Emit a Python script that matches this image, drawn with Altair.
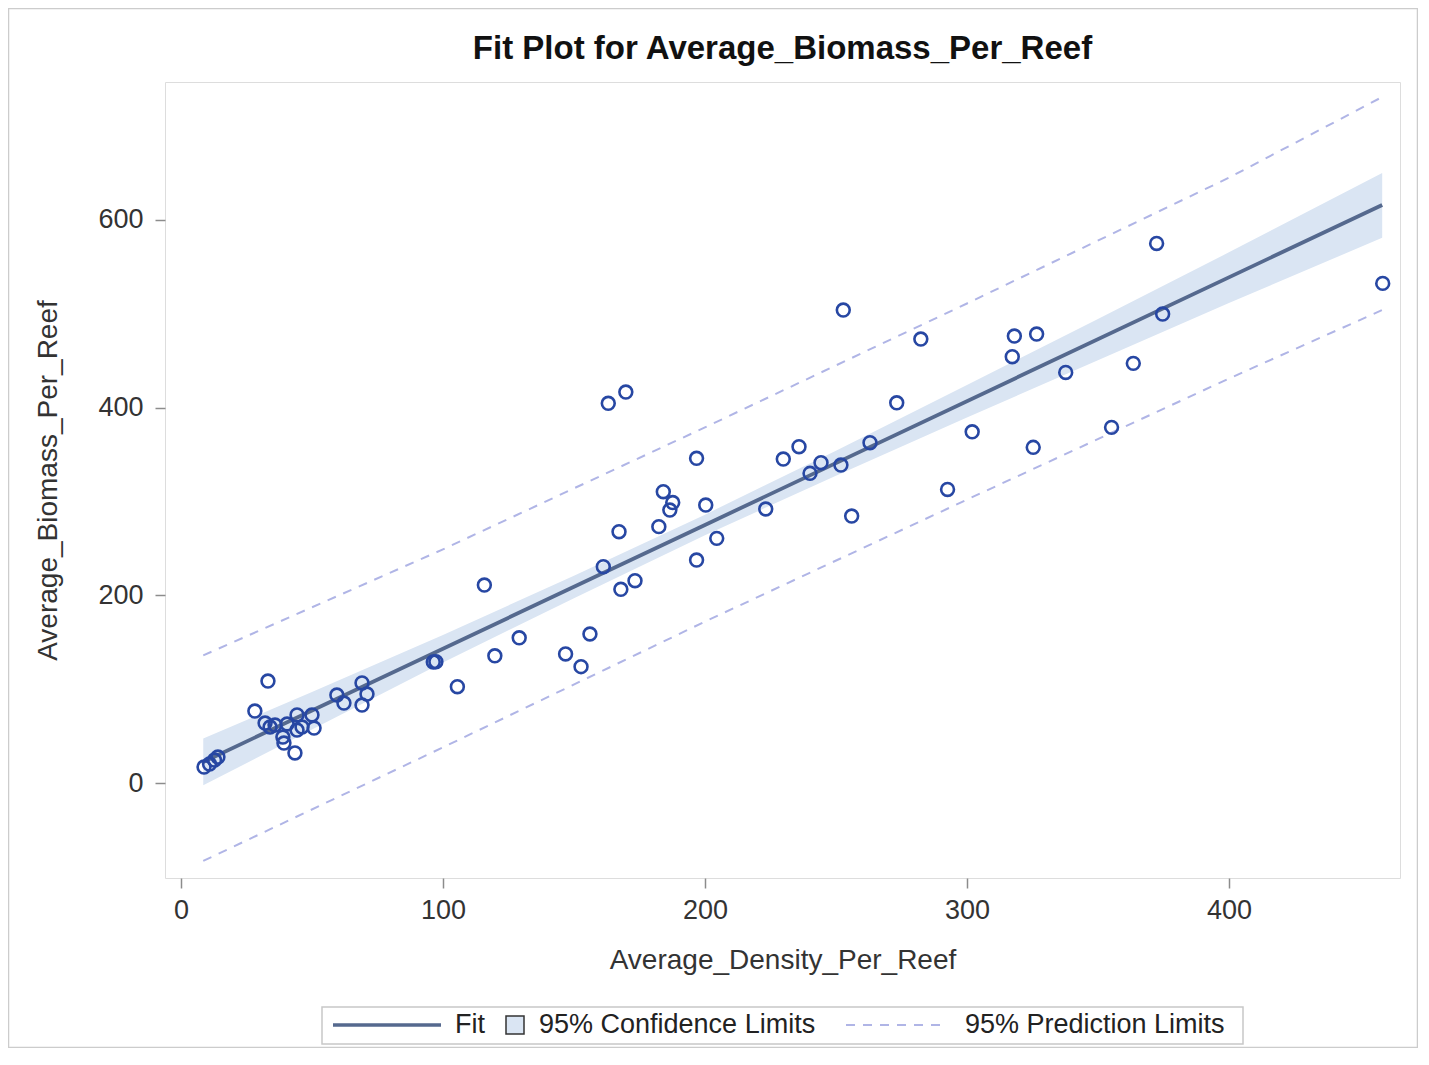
import altair as alt
import pandas as pd

# ---------------- data ----------------
density = [8.8, 10.9, 12.8, 14.1,
           28.2, 32.1, 34.0, 35.9, 38.9, 39.3, 40.5, 43.5, 44.3, 44.3, 46.2, 50.0, 50.8, 33.2,
           59.5, 62.2, 69.1, 71.0, 69.1,
           96.3, 97.3,
           105.5, 115.8, 119.8, 129.1, 146.8, 152.7, 156.1, 161.2, 167.9, 173.3,
           163.1, 169.8, 196.8, 184.1, 187.7, 186.6, 200.3, 167.2, 182.4, 204.5, 196.8, 223.2,
           229.9, 235.9, 240.1, 244.3, 251.9, 263.0, 273.2, 256.0, 252.8,
           282.4, 318.1, 326.6, 317.3, 337.7, 302.0, 325.3, 292.6, 355.2, 363.5,
           372.4, 374.7, 458.7]
biomass = [17.0, 20.2, 24.5, 27.7,
           76.7, 63.9, 59.7, 61.8, 49.0, 42.6, 62.9, 32.0, 72.5, 56.5, 59.7, 72.5, 58.6, 108.7,
           93.8, 85.2, 106.6, 94.8, 83.1,
           129.0, 129.3,
           102.6, 211.0, 135.6, 154.8, 137.5, 124.0, 158.8, 230.5, 206.4, 215.6,
           404.6, 416.6, 346.0, 310.4, 298.9, 290.9, 296.2, 267.8, 273.2, 260.7, 237.6, 292.0,
           345.2, 358.4, 330.0, 341.3, 338.8, 362.6, 405.2, 284.5, 504.0,
           473.1, 476.3, 478.4, 454.3, 437.5, 374.3, 357.7, 312.8, 379.0, 447.2,
           575.0, 499.7, 532.4]

fit_x = [8.5, 200.0, 458.5]
fit_y = [22.5, 275.0, 616.0]

band_x = [8.5, 50, 100, 150, 200, 250, 300, 350, 400, 458.5]
ci_lower = [-2.5, 57.0, 128.5, 197.0, 264.0, 327.5, 389.5, 450.5, 511.5, 581.0]
ci_upper = [47.5, 97.0, 157.7, 221.0, 286.0, 354.0, 424.0, 494.5, 565.5, 650.0]

pi_x = [8.5, 100, 200, 300, 400, 458.5]
pi_upper = [136.0, 249.0, 379.0, 511.0, 645.0, 731.0]
pi_lower = [-83.0, 38.0, 172.0, 302.0, 431.0, 504.0]

series = ["Fit", "95% Confidence Limits", "95% Prediction Limits"]
x_ticks = [0, 100, 200, 300, 400]
y_ticks = [0, 200, 400, 600]

# ---------------- styling ----------------
FONT = "Liberation Sans"
C_FIT = "#55698e"
C_CI = "#dae5f3"
C_PI = "#b0b5e6"
C_PT = "#2747a3"

df_pts = pd.DataFrame({"x": density, "y": biomass})
df_band = pd.DataFrame({"x": band_x, "lo": ci_lower, "hi": ci_upper, "s_ci": series[1]})
df_fit = pd.DataFrame({"x": fit_x, "y": fit_y, "s_fit": series[0]})
df_pi = pd.DataFrame({
    "x": pi_x + pi_x,
    "y": pi_upper + pi_lower,
    "side": ["upper"] * len(pi_x) + ["lower"] * len(pi_x),
    "s_pi": series[2],
})

xs = alt.Scale(domain=[-6.1, 465.3], nice=False, zero=False)
ys = alt.Scale(domain=[-101.2, 747.0], nice=False, zero=False)

xaxis = alt.Axis(values=x_ticks, format="d", grid=False, domain=False,
                 tickSize=10, tickColor="#8c8c8c", tickWidth=1.5,
                 labelFont=FONT, labelFontSize=27, labelColor="#333333", labelPadding=9,
                 title="Average_Density_Per_Reef", titleFont=FONT, titleFontSize=28,
                 titleFontWeight="normal", titleColor="#333333",
                 titleX=617.5, titleY=82, titleBaseline="middle", titleAlign="center")
yaxis = alt.Axis(values=y_ticks, format="d", grid=False, domain=False,
                 tickSize=10, tickColor="#8c8c8c", tickWidth=1.5,
                 labelFont=FONT, labelFontSize=27, labelColor="#333333", labelPadding=12,
                 title="Average_Biomass_Per_Reef", titleFont=FONT, titleFontSize=28,
                 titleFontWeight="normal", titleColor="#333333",
                 titleX=-117, titleY=398, titleAngle=-90, titleBaseline="middle",
                 titleAlign="center")

LEG_Y = 929.5
common = dict(title=None, orient="none", direction="horizontal", padding=0,
              labelFont=FONT, labelFontSize=27, labelColor="#222222", labelLimit=600,
              symbolSize=324, legendY=LEG_Y)

leg_fit = alt.Legend(legendX=168, symbolType="M-6,0H6", symbolOffset=40.5, labelOffset=54.5,
                     symbolStrokeColor=C_FIT, symbolStrokeWidth=3.5,
                     symbolFillColor="transparent", **common)
leg_ci = alt.Legend(legendX=336.5, symbolType="square", symbolOffset=0, labelOffset=10.5,
                    symbolStrokeColor="#333333", symbolStrokeWidth=1.5,
                    symbolFillColor=C_CI, **common)
leg_pi = alt.Legend(legendX=681, symbolType="M-5.556,0H5.556", symbolOffset=36.5,
                    labelOffset=55.5, symbolStrokeColor=C_PI, symbolStrokeWidth=1.8,
                    symbolFillColor="transparent", symbolDash=[8, 7], **common)

band = alt.Chart(df_band).mark_area(opacity=1).encode(
    x=alt.X("x:Q", scale=xs, axis=xaxis),
    y=alt.Y("lo:Q", scale=ys, axis=yaxis),
    y2="hi:Q",
    fill=alt.Fill("s_ci:N", scale=alt.Scale(domain=[series[1]], range=[C_CI]), legend=leg_ci),
)

pi = alt.Chart(df_pi).mark_line(strokeWidth=2, color=C_PI).encode(
    x=alt.X("x:Q", scale=xs, axis=xaxis),
    y=alt.Y("y:Q", scale=ys, axis=yaxis),
    detail="side:N",
    strokeDash=alt.StrokeDash("s_pi:N", scale=alt.Scale(domain=[series[2]], range=[[9, 8]]),
                              legend=leg_pi),
)

fit = alt.Chart(df_fit).mark_line(strokeWidth=3.8).encode(
    x=alt.X("x:Q", scale=xs, axis=xaxis),
    y=alt.Y("y:Q", scale=ys, axis=yaxis),
    stroke=alt.Stroke("s_fit:N", scale=alt.Scale(domain=[series[0]], range=[C_FIT]),
                      legend=leg_fit),
)

pts = alt.Chart(df_pts).mark_point(shape="circle", filled=False, size=165,
                                   strokeWidth=2.6, color=C_PT, opacity=1).encode(
    x=alt.X("x:Q", scale=xs, axis=xaxis),
    y=alt.Y("y:Q", scale=ys, axis=yaxis),
)

one = pd.DataFrame({"k": [0]})
frame = alt.Chart(one).mark_rect(fill="transparent", stroke="#cccccc", strokeWidth=1.5).encode(
    x=alt.value(-156.5), x2=alt.value(1252.5),
    y=alt.value(-73.5), y2=alt.value(965.5),
)
legend_box = alt.Chart(one).mark_rect(fill="white", stroke="#c8c8c8", strokeWidth=1.5).encode(
    x=alt.value(157), x2=alt.value(1078),
    y=alt.value(925), y2=alt.value(962),
)

chart = alt.layer(frame, legend_box, band, pi, fit, pts).properties(
    width=1235, height=796,
    autosize="none",
    padding={"left": 157, "top": 74, "right": 18, "bottom": 170},
    title=alt.TitleParams("Fit Plot for Average_Biomass_Per_Reef", font=FONT, fontSize=33,
                          fontWeight="bold", color="#111111", anchor="middle",
                          frame="group", offset=-58),
).resolve_legend(fill="independent", stroke="independent", strokeDash="independent"
).configure_view(stroke="#a8a8a8", strokeWidth=2).configure(background="white")

chart.save("out.html", embed_options={"renderer": "svg", "actions": False})
